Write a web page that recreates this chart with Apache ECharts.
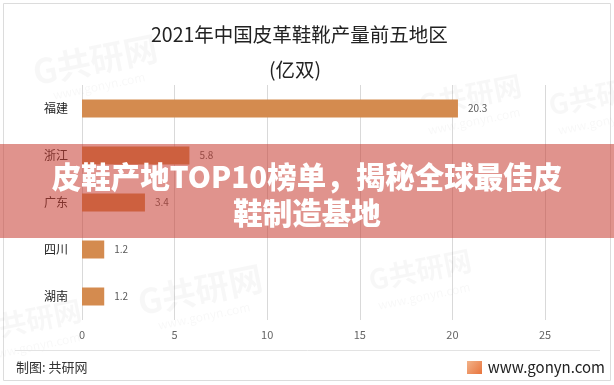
<!DOCTYPE html>
<html>
<head>
<meta charset="utf-8">
<script src="https://cdn.jsdelivr.net/npm/echarts@6/dist/echarts.min.js"></script>
<style>
html,body{margin:0;padding:0;background:#fff;}
#c{width:614px;height:385px;}
</style>
</head>
<body>
<div id="c"></div>
<script>
var categories = ['福建', '浙江', '广东', '四川', '湖南'];
var values = [20.3, 5.8, 3.4, 1.2, 1.2];
var xTicks = [0, 5, 10, 15, 20, 25];
var titleText = '2021年中国皮革鞋靴产量前五地区';
var unitText = '(亿双)';
var bannerLine1 = '皮鞋产地TOP10榜单，揭秘全球最佳皮';
var bannerLine2 = '鞋制造基地';

var FONT = '"Noto Sans CJK SC", "Noto Sans", sans-serif';
var chart = echarts.init(document.getElementById('c'), null, {renderer: 'canvas'});

function wm(x, y, big) {
  return [
    {type: 'text', x: x, y: y, rotation: 0.2, z: 1, silent: true,
      style: {text: 'G共研网', fill: 'rgba(0,0,0,0.03)', font: 'bold ' + (big ? 34 : 28) + 'px ' + FONT, textAlign: 'center', textVerticalAlign: 'middle'}},
    {type: 'text', x: x + 4, y: y + 26, rotation: 0.2, z: 1, silent: true,
      style: {text: 'www.gonyn.com', fill: 'rgba(0,0,0,0.03)', font: '12px ' + FONT, textAlign: 'center', textVerticalAlign: 'middle'}}
  ];
}

var graphics = [];
graphics.push({type: 'rect', z: 0, silent: true, shape: {x: 3.5, y: 3.5, width: 607, height: 377},
  style: {fill: 'none', stroke: '#dcdcdc', lineWidth: 1}});
graphics = graphics.concat(wm(95, 60, true), wm(600, 95, false), wm(200, 290, true), wm(420, 270, false), wm(30, 320, false), wm(470, 95, false));
graphics.push({type: 'line', z: 2, silent: true, shape: {x1: 15, y1: 350.5, x2: 600, y2: 350.5},
  style: {stroke: '#e3e3e3', lineWidth: 1}});
graphics.push({type: 'text', x: 16, y: 367, z: 2, silent: true,
  style: {text: '制图: 共研网', fill: '#333', font: '13px ' + FONT, textVerticalAlign: 'middle'}});
graphics.push({type: 'rect', z: 2, silent: true, shape: {x: 467, y: 361, width: 15, height: 13},
  style: {fill: new echarts.graphic.LinearGradient(0, 0, 1, 1, [{offset: 0, color: '#f2b38a'}, {offset: 1, color: '#e8743c'}])}});
graphics.push({type: 'text', x: 605, y: 367, z: 2, silent: true,
  style: {text: 'www.gonyn.com', fill: '#222', font: '15px ' + FONT, textAlign: 'right', textVerticalAlign: 'middle'}});
// banner
graphics.push({type: 'rect', z: 100, silent: true, shape: {x: 0, y: 144, width: 614, height: 94},
  style: {fill: 'rgba(200,62,52,0.56)'}});
graphics.push({type: 'text', x: 307, y: 177, z: 101, silent: true,
  style: {text: bannerLine1, fill: '#fff', font: '900 29.5px ' + FONT, textAlign: 'center', textVerticalAlign: 'middle',
    shadowColor: 'rgba(90,20,10,0.35)', shadowBlur: 3, shadowOffsetX: 0, shadowOffsetY: 1}});
graphics.push({type: 'text', x: 307, y: 213, z: 101, silent: true,
  style: {text: bannerLine2, fill: '#fff', font: '900 29.5px ' + FONT, textAlign: 'center', textVerticalAlign: 'middle',
    shadowColor: 'rgba(90,20,10,0.35)', shadowBlur: 3, shadowOffsetX: 0, shadowOffsetY: 1}});

chart.setOption({
  animation: false,
  backgroundColor: '#fff',
  title: [
    {text: titleText, left: 146, top: 20, textStyle: {fontFamily: FONT, fontSize: 19.5, fontWeight: 'normal', color: '#222'}},
    {text: unitText, left: 264, top: 55, textStyle: {fontFamily: FONT, fontSize: 19.5, fontWeight: 'normal', color: '#222'}}
  ],
  grid: {left: 82, right: 69, top: 85, bottom: 65, containLabel: false},
  xAxis: {
    type: 'value', min: xTicks[0], max: xTicks[xTicks.length - 1], interval: xTicks[1] - xTicks[0],
    axisLine: {show: false}, axisTick: {show: false},
    axisLabel: {color: '#666', fontSize: 11, fontFamily: FONT, margin: 9},
    splitLine: {show: true, lineStyle: {color: '#d9d9d9', width: 1}}
  },
  yAxis: {
    type: 'category', data: categories, inverse: true,
    axisLine: {show: false}, axisTick: {show: false},
    axisLabel: {color: '#222', fontSize: 12, fontFamily: FONT, margin: 14}
  },
  series: [{
    type: 'bar', data: values, barWidth: 18,
    itemStyle: {color: '#d48b4f'},
    label: {show: true, position: 'right', distance: 10, color: '#595959', fontSize: 10, fontFamily: FONT}
  }],
  graphic: graphics
});
</script>
</body>
</html>
